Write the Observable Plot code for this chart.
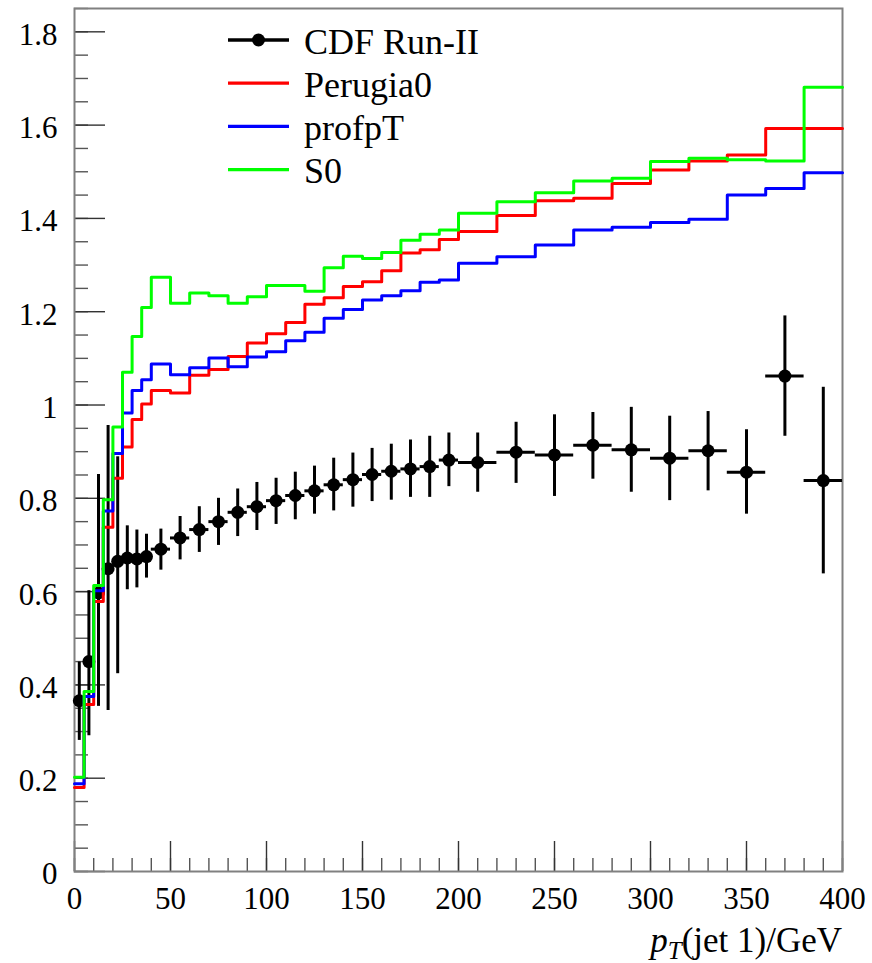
<!DOCTYPE html>
<html><head><meta charset="utf-8">
<script src="https://cdn.jsdelivr.net/npm/d3@7"></script>
<script src="https://cdn.jsdelivr.net/npm/@observablehq/plot@0.6"></script>
<style>body{margin:0;background:#fff} #chart{width:872px;height:963px}</style>
</head><body><div id="chart"></div>
<script>
// Bin edges (GeV)
const binEdges = [0,5,10,15,20,25,30,35,40,50,60,70,80,90,100,110,120,130,140,150,160,170,180,190,200,220,240,260,280,300,320,340,360,380,400];
// CDF Run-II data
const cdfValue = [0.366,0.450,0.597,0.649,0.665,0.672,0.670,0.675,0.691,0.715,0.733,0.750,0.770,0.782,0.795,0.806,0.816,0.829,0.840,0.851,0.858,0.863,0.868,0.882,0.877,0.899,0.893,0.914,0.904,0.886,0.902,0.856,1.062,0.838];
const cdfLow   = [0.281,0.291,0.354,0.345,0.424,0.604,0.608,0.629,0.646,0.668,0.684,0.699,0.718,0.731,0.744,0.754,0.766,0.773,0.781,0.793,0.796,0.802,0.802,0.825,0.813,0.832,0.804,0.841,0.813,0.795,0.816,0.766,0.933,0.638];
const cdfHigh  = [0.449,0.602,0.851,0.956,0.889,0.741,0.732,0.723,0.734,0.761,0.782,0.800,0.820,0.834,0.843,0.856,0.869,0.886,0.897,0.907,0.916,0.925,0.933,0.940,0.940,0.963,0.979,0.984,0.995,0.976,0.986,0.947,1.191,1.038];
// MC tunes
const perugia0 = [0.180,0.358,0.579,0.738,0.843,0.910,0.969,1.002,1.031,1.026,1.064,1.076,1.104,1.133,1.153,1.177,1.216,1.230,1.254,1.264,1.288,1.326,1.333,1.355,1.372,1.406,1.438,1.443,1.475,1.504,1.523,1.536,1.593,1.593];
const profpT   = [0.188,0.375,0.602,0.773,0.896,0.983,1.031,1.054,1.088,1.065,1.080,1.101,1.082,1.103,1.114,1.138,1.156,1.186,1.205,1.225,1.234,1.245,1.263,1.268,1.304,1.318,1.343,1.375,1.381,1.391,1.398,1.450,1.464,1.498];
const s0       = [0.202,0.386,0.613,0.797,0.953,1.070,1.147,1.209,1.274,1.218,1.240,1.234,1.218,1.232,1.256,1.256,1.244,1.294,1.319,1.314,1.327,1.353,1.366,1.375,1.411,1.436,1.455,1.480,1.486,1.522,1.529,1.526,1.523,1.681];
// Ticks
const yMajor = [0,0.2,0.4,0.6,0.8,1,1.2,1.4,1.6,1.8];
const yMinor = d3.range(0, 1.851, 0.05).map(v => +v.toFixed(2));
const xMajor = [0,50,100,150,200,250,300,350,400];
const xMinor = d3.range(0, 401, 10);
const legendNames = ["CDF Run-II","Perugia0","profpT","S0"];
const legendColors = ["#000000","#ff0000","#0000ff","#00ff00"];

const W = 872, H = 963, mL = 74, mR = 30, mT = 8, mB = 92;
const innerW = W - mL - mR, innerH = H - mT - mB;

function stepData(vals) {
  const a = vals.map((v, i) => ({x: binEdges[i], y: v}));
  a.push({x: binEdges[binEdges.length - 1], y: vals[vals.length - 1]});
  return a;
}
const cdf = cdfValue.map((v, i) => ({
  lo: binEdges[i], hi: binEdges[i + 1], mid: (binEdges[i] + binEdges[i + 1]) / 2,
  y: v, ylo: cdfLow[i], yhi: cdfHigh[i]
}));

const font = "'Liberation Serif', 'DejaVu Serif', serif";
const chart = Plot.plot({
  width: W, height: H, marginLeft: mL, marginRight: mR, marginTop: mT, marginBottom: mB,
  x: {domain: [0, 400]},
  y: {domain: [0, 1.85]},
  style: {fontFamily: font, background: "white", color: "black"},
  marks: [
    Plot.ruleY(yMinor, {y: d => d, insetRight: innerW - 14, stroke: "#555", strokeWidth: 1.4}),
    Plot.ruleY(yMajor, {y: d => d, insetRight: innerW - 31, stroke: "#333", strokeWidth: 1.4}),
    Plot.ruleX(xMinor, {x: d => d, insetTop: innerH - 13, stroke: "#555", strokeWidth: 1.4}),
    Plot.ruleX(xMajor, {x: d => d, insetTop: innerH - 30, stroke: "#333", strokeWidth: 1.4}),
    Plot.frame({stroke: "#808080", strokeWidth: 2}),
    Plot.axisY({ticks: yMajor, tickSize: 0, tickPadding: 17, fontSize: 31, dy: 3, label: null,
      tickFormat: d => String(+d.toFixed(1))}),
    Plot.axisX({ticks: xMajor, tickSize: 0, tickPadding: 15, fontSize: 31, label: null,
      tickFormat: d => String(d)}),
    Plot.ruleX(cdf, {x: "mid", y1: "ylo", y2: "yhi", stroke: "black", strokeWidth: 3}),
    Plot.ruleY(cdf, {y: "y", x1: "lo", x2: "hi", stroke: "black", strokeWidth: 3}),
    Plot.dot(cdf, {x: "mid", y: "y", r: 6.5, fill: "black", stroke: "none"}),
    Plot.line(stepData(perugia0), {x: "x", y: "y", curve: "step-after", stroke: "#ff0000", strokeWidth: 3}),
    Plot.line(stepData(profpT), {x: "x", y: "y", curve: "step-after", stroke: "#0000ff", strokeWidth: 3}),
    Plot.line(stepData(s0), {x: "x", y: "y", curve: "step-after", stroke: "#00ff00", strokeWidth: 3})
  ]
});
document.getElementById("chart").appendChild(chart);

// Legend
const svg = d3.select(chart);
const lg = svg.append("g").attr("font-family", font).attr("font-size", 36).attr("text-anchor", "start");
legendNames.forEach((name, i) => {
  const yl = 40 + i * 43.2;
  lg.append("line").attr("x1", 228).attr("x2", 289).attr("y1", yl).attr("y2", yl)
    .attr("stroke", legendColors[i]).attr("stroke-width", 3.3);
  if (i === 0) lg.append("circle").attr("cx", 258.5).attr("cy", yl).attr("r", 6.5).attr("fill", "black");
  lg.append("text").attr("x", 304).attr("y", yl + 13.5).attr("fill", "black").attr("text-anchor", "start").text(name);
});

// X axis title
const t = svg.append("text").attr("x", W - mR).attr("y", 952).attr("text-anchor", "end")
  .attr("font-family", font).attr("font-size", 35).attr("fill", "black");
t.append("tspan").attr("font-style", "italic").text("p");
t.append("tspan").attr("font-style", "italic").attr("font-size", 25).attr("dy", 7).text("T");
t.append("tspan").attr("dy", -7).text("(");
t.append("tspan").text("jet 1");
t.append("tspan").text(")");
t.append("tspan").text("/GeV");
</script>
</body></html>
